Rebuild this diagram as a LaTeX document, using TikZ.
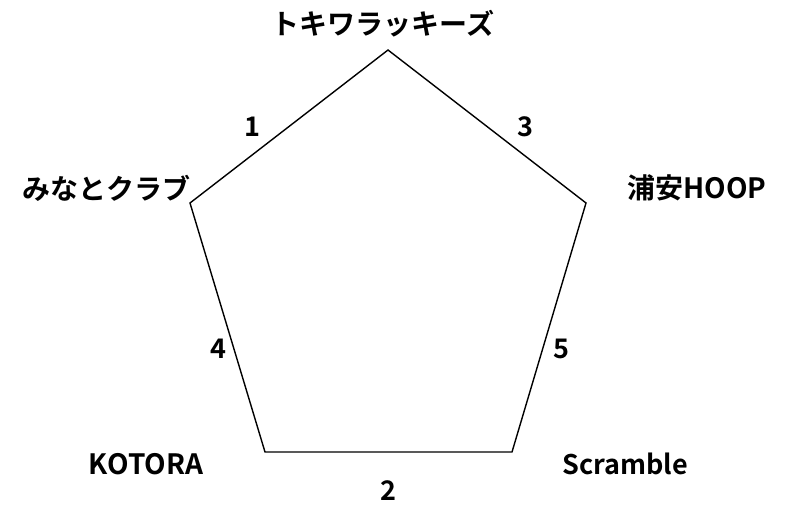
\documentclass[tikz,border=0pt]{standalone}
\usepackage{fontspec}
\newfontfamily\jpfont{Noto Sans CJK JP}[BoldFont={* Bold}]
\usetikzlibrary{positioning}

\begin{document}
\begin{tikzpicture}[x=1pt,y=-1pt,
    team/.style={font=\jpfont\bfseries\fontsize{28}{30}\selectfont},
    num/.style={font=\jpfont\bfseries\fontsize{27}{29}\selectfont}]
    \useasboundingbox (0,0) rectangle (797,506);
    % vertices of the pentagon
    \coordinate (t) at (388,50);
    \coordinate (r) at (586,203);
    \coordinate (br) at (512,452);
    \coordinate (bl) at (265,452);
    \coordinate (l) at (190,203);
    \draw[line width=1.4pt, line join=miter] (t) -- (r) -- (br) -- (bl) -- (l) -- cycle;
    % teams
    \node[team] (tokiwa) at (383,24) {トキワラッキーズ};
    \node[team] (minato) at (106,188) {みなとクラブ};
    \node[team] (urayasu) at (697,188) {浦安HOOP};
    \node[team] (kotora) at (146,464) {KOTORA};
    \node[team, font=\jpfont\bfseries\fontsize{27}{29}\selectfont] (scramble) at (625,464) {Scramble};
    % games
    \node[num] (n1) at (252,127) {1};
    \node[num] (n3) at (525,127) {3};
    \node[num] (n4) at (218,349) {4};
    \node[num] (n5) at (561,349) {5};
    \node[num] (n2) at (388,491) {2};
\end{tikzpicture}
\end{document}
